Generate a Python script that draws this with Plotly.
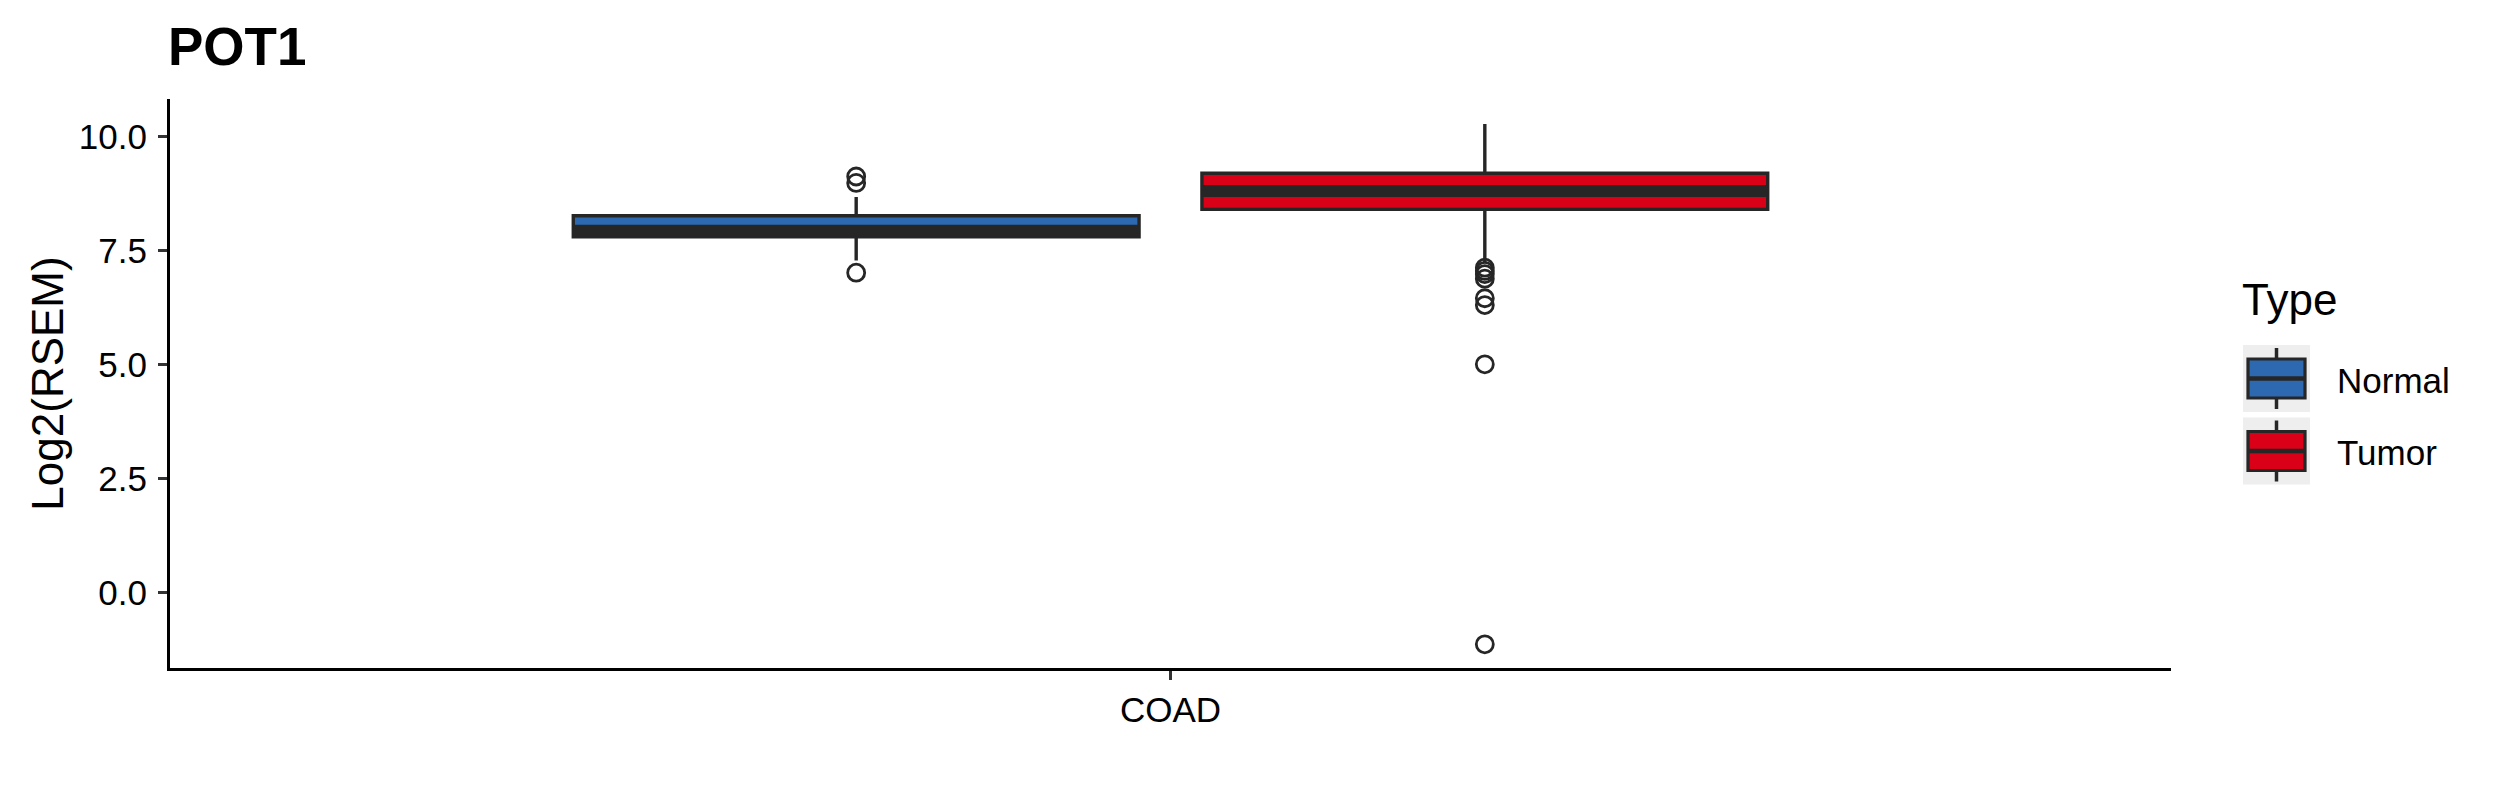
import plotly.graph_objects as go

# ---- data ----
categories = ["COAD"]
types = ["Normal", "Tumor"]
colors = ["#2C69B0", "#D90017"]

q1 = [7.80, 8.40]
median = [7.93, 8.80]
q3 = [8.26, 9.19]
lowerfence = [7.28, 7.22]
upperfence = [8.67, 10.27]

normal_outliers = [9.12, 8.98, 7.01]
tumor_outliers = [7.12, 7.05, 6.98, 6.88, 6.45, 6.30, 5.00, -1.14]
outliers = [normal_outliers, tumor_outliers]

y_ticks = [0.0, 2.5, 5.0, 7.5, 10.0]
y_range = [-1.66, 10.82]

FONT = "Liberation Sans, Arial, sans-serif"
DARK = "#262626"

# page body has an 8px margin; figure geometry (in figure px)
BODY = 8
W, H = 2499 - BODY, 800 - BODY
ML, MR, MT, MB = 162, 328, 91, 132
PW, PH = W - ML - MR, H - MT - MB


def px(xp):  # page x px -> paper x
    return (xp - BODY - ML) / PW


def py(yp):  # page y px -> paper y
    return (H - MB - (yp - BODY)) / PH


fig = go.Figure()

for i, t in enumerate(types):
    fig.add_trace(go.Box(
        name=t, x=categories, q1=[q1[i]], median=[median[i]], q3=[q3[i]],
        lowerfence=[lowerfence[i]], upperfence=[upperfence[i]],
        offsetgroup=t, showlegend=False,
        fillcolor=colors[i], line=dict(color=DARK, width=3.4),
        whiskerwidth=0, boxpoints=False,
    ))
    # thick median line (ggplot fattened median)
    fig.add_trace(go.Box(
        name=t, x=categories, q1=[median[i]], median=[median[i]], q3=[median[i]],
        lowerfence=[median[i]], upperfence=[median[i]],
        offsetgroup=t, showlegend=False,
        fillcolor=DARK, line=dict(color=DARK, width=12),
        whiskerwidth=0, boxpoints=False, hoverinfo="skip",
    ))
    # outliers as points of an invisible box in the same slot
    fig.add_trace(go.Box(
        name=t, x=categories * len(outliers[i]), y=outliers[i],
        offsetgroup=t, showlegend=False,
        fillcolor="rgba(0,0,0,0)", line=dict(color="rgba(0,0,0,0)", width=0),
        whiskerwidth=0, boxpoints="all", jitter=0, pointpos=0,
        marker=dict(symbol="circle-open", size=17, color=DARK,
                    line=dict(width=2.8, color=DARK)),
    ))

# ---- ggplot-style legend drawn with shapes/annotations ----
shapes, annotations = [], []
annotations.append(dict(text="Type", xref="paper", yref="paper",
                        x=px(2240), y=py(299), xanchor="left", yanchor="middle",
                        showarrow=False, font=dict(size=44, family=FONT, color="black")))
key_tops = [345, 417.5]
for i, t in enumerate(types):
    top = key_tops[i]
    bx0, bx1 = 2243, 2310
    shapes.append(dict(type="rect", xref="paper", yref="paper",
                       x0=px(bx0), x1=px(bx1), y0=py(top), y1=py(top + 67),
                       fillcolor="#EEEEEE", line=dict(width=0), layer="above"))
    cx = (bx0 + bx1) / 2
    shapes.append(dict(type="line", xref="paper", yref="paper",
                       x0=px(cx), x1=px(cx), y0=py(top + 3), y1=py(top + 64),
                       line=dict(color=DARK, width=3.5), layer="above"))
    shapes.append(dict(type="rect", xref="paper", yref="paper",
                       x0=px(2248), x1=px(2305), y0=py(top + 14), y1=py(top + 53),
                       fillcolor=colors[i], line=dict(color=DARK, width=3.2), layer="above"))
    shapes.append(dict(type="line", xref="paper", yref="paper",
                       x0=px(2248), x1=px(2305), y0=py(top + 33.5), y1=py(top + 33.5),
                       line=dict(color=DARK, width=4.5), layer="above"))
    annotations.append(dict(text=t, xref="paper", yref="paper",
                            x=px(2335), y=py(top + 35), xanchor="left", yanchor="middle",
                            showarrow=False, font=dict(size=35, family=FONT, color="black")))

fig.update_layout(
    width=W, height=H,
    paper_bgcolor="white", plot_bgcolor="white",
    margin=dict(l=ML, r=MR, t=MT, b=MB, autoexpand=False),
    boxmode="group", boxgap=0.246, boxgroupgap=0.1,
    font=dict(family=FONT, color="black", size=35),
    title=dict(text="<b>POT1</b>", x=(ML - 2) / W, xanchor="left",
               y=1 - (46 - BODY) / H, yanchor="middle", yref="container",
               font=dict(family=FONT, size=53, color="black")),
    showlegend=False,
    shapes=shapes, annotations=annotations,
)

fig.update_xaxes(
    type="category", range=[-0.6, 0.6],
    showline=True, linecolor="black", linewidth=3.2,
    ticks="outside", ticklen=9, tickwidth=3.2, tickcolor="#333333",
    tickfont=dict(size=35, color="black", family=FONT),
    showgrid=False, zeroline=False,
)
fig.update_yaxes(
    range=y_range, tickvals=y_ticks, ticktext=[f"{v:.1f}" for v in y_ticks],
    showline=True, linecolor="black", linewidth=3.2,
    ticks="outside", ticklen=9, tickwidth=3.2, tickcolor="#333333",
    tickfont=dict(size=35, color="black", family=FONT),
    ticklabelstandoff=4,
    showgrid=False, zeroline=False,
    title=dict(text="Log2(RSEM)", font=dict(size=44, family=FONT, color="black"),
               standoff=2),
)

fig.write_html("out.html")
